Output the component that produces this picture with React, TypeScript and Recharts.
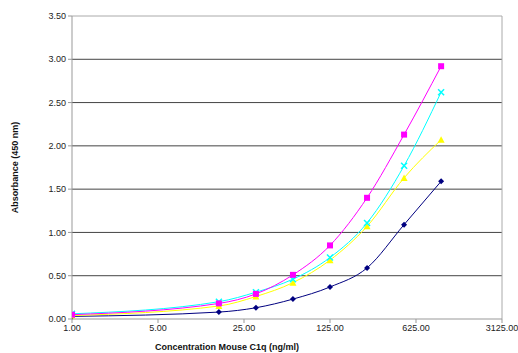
import { LineChart, Line, XAxis, YAxis, ReferenceLine } from 'recharts';

const concentrations = [1, 15.625, 31.25, 62.5, 125, 250, 500, 1000];
const magentaSeries = [0.05, 0.18, 0.29, 0.51, 0.85, 1.4, 2.13, 2.92];
const cyanSeries = [0.06, 0.2, 0.31, 0.46, 0.71, 1.11, 1.77, 2.62];
const yellowSeries = [0.04, 0.15, 0.26, 0.42, 0.68, 1.07, 1.63, 2.07];
const navySeries = [0.03, 0.08, 0.13, 0.23, 0.37, 0.59, 1.09, 1.59];

const xTicks = [1, 5, 25, 125, 625, 3125];
const yTicks = [0, 0.5, 1, 1.5, 2, 2.5, 3, 3.5];
const gridValues = [0.5, 1, 1.5, 2, 2.5, 3];

const data = concentrations.map((c, i) => ({
  c,
  magenta: magentaSeries[i],
  cyan: cyanSeries[i],
  yellow: yellowSeries[i],
  navy: navySeries[i],
}));

const FONT = '"Liberation Sans", Arial, sans-serif';

type DotProps = { cx?: number; cy?: number };

const SquareDot = ({ cx = 0, cy = 0 }: DotProps) => (
  <rect x={cx - 3} y={cy - 3} width={6} height={6} fill="#FF00FF" />
);

const CrossDot = ({ cx = 0, cy = 0 }: DotProps) => (
  <g stroke="#00FFFF" strokeWidth={1.5}>
    <line x1={cx - 3} y1={cy - 3} x2={cx + 3} y2={cy + 3} />
    <line x1={cx - 3} y1={cy + 3} x2={cx + 3} y2={cy - 3} />
  </g>
);

const TriangleDot = ({ cx = 0, cy = 0 }: DotProps) => (
  <path d={`M${cx},${cy - 3.5} L${cx + 3.5},${cy + 3} L${cx - 3.5},${cy + 3} Z`} fill="#FFFF00" />
);

const DiamondDot = ({ cx = 0, cy = 0 }: DotProps) => (
  <path d={`M${cx},${cy - 3} L${cx + 3},${cy} L${cx},${cy + 3} L${cx - 3},${cy} Z`} fill="#000080" />
);

export default function App() {
  return (
    <div style={{ position: 'absolute', left: 0, top: 0, background: '#fff', fontFamily: FONT }}>
      <LineChart width={518} height={353} data={data} margin={{ top: 16, right: 16, bottom: 0, left: 0 }}>
        <XAxis
          dataKey="c"
          type="number"
          scale="log"
          domain={[1, 3125]}
          ticks={xTicks}
          tickFormatter={(v: number) => v.toFixed(2)}
          tick={{ fontSize: 9, fill: '#222', fontFamily: FONT }}
          stroke="#999"
          tickSize={4}
          height={34}
          allowDataOverflow
          label={{
            value: 'Concentration Mouse C1q (ng/ml)',
            position: 'insideBottom',
            offset: 0,
            dx: -60,
            dy: -3,
            fontSize: 9,
            fontWeight: 'bold',
            fill: '#111',
            fontFamily: FONT,
          }}
        />
        <YAxis
          type="number"
          domain={[0, 3.5]}
          ticks={yTicks}
          tickFormatter={(v: number) => v.toFixed(2)}
          tick={{ fontSize: 9, fill: '#222', fontFamily: FONT }}
          stroke="#999"
          tickSize={4}
          width={72}
          label={{
            value: 'Absorbance (450 nm)',
            angle: -90,
            position: 'insideLeft',
            offset: 15,
            fontSize: 9,
            fontWeight: 'bold',
            fill: '#111',
            fontFamily: FONT,
            style: { textAnchor: 'middle' },
          }}
        />
        {gridValues.map((v) => (
          <ReferenceLine key={v} y={v} stroke="#444" strokeWidth={1} />
        ))}
        <ReferenceLine y={3.5} stroke="#aaa" />
        <ReferenceLine x={3125} stroke="#aaa" />
        <Line dataKey="navy" type="monotone" stroke="#000080" strokeWidth={1} dot={<DiamondDot />} isAnimationActive={false} />
        <Line dataKey="yellow" type="monotone" stroke="#FFFF00" strokeWidth={1} dot={<TriangleDot />} isAnimationActive={false} />
        <Line dataKey="cyan" type="monotone" stroke="#00FFFF" strokeWidth={1} dot={<CrossDot />} isAnimationActive={false} />
        <Line dataKey="magenta" type="monotone" stroke="#FF00FF" strokeWidth={1} dot={<SquareDot />} isAnimationActive={false} />
      </LineChart>
    </div>
  );
}
